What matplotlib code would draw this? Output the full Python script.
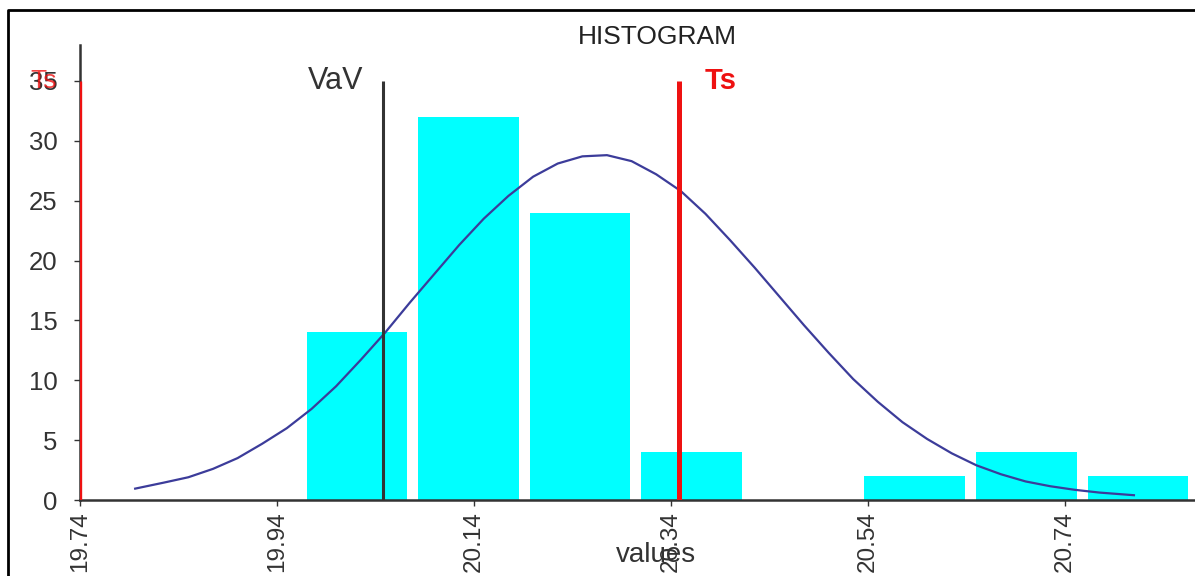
import matplotlib
matplotlib.use("Agg")
import matplotlib.pyplot as plt
from matplotlib.lines import Line2D

plt.rcParams['font.family'] = ['Liberation Sans', 'DejaVu Sans']

# histogram bins (edges) and counts
bin_edges = [19.970, 20.083, 20.197, 20.310, 20.423, 20.536, 20.650, 20.763, 20.876]
counts = [14, 32, 24, 4, 0, 2, 4, 2]

# fitted curve
curve_x = [19.796, 19.825, 19.85, 19.875, 19.90, 19.925, 19.95, 19.975, 20.00, 20.025,
           20.05, 20.075, 20.10, 20.125, 20.15, 20.175, 20.20, 20.225, 20.25, 20.275,
           20.30, 20.325, 20.35, 20.375, 20.40, 20.425, 20.45, 20.475, 20.50, 20.525,
           20.55, 20.575, 20.60, 20.625, 20.65, 20.675, 20.70, 20.725, 20.75, 20.775,
           20.81]
curve_y = [0.95, 1.45, 1.9, 2.6, 3.5, 4.7, 6.0, 7.6, 9.5, 11.7,
           14.0, 16.5, 18.9, 21.3, 23.5, 25.4, 27.0, 28.1, 28.7, 28.8,
           28.3, 27.2, 25.8, 23.9, 21.7, 19.4, 17.0, 14.6, 12.3, 10.1,
           8.2, 6.5, 5.1, 3.9, 2.9, 2.15, 1.55, 1.15, 0.85, 0.62,
           0.4]

# limit lines
ts_low = 19.74
ts_high = 20.348
vav = 20.048
line_top = 35

x_ticks = [19.74, 19.94, 20.14, 20.34, 20.54, 20.74]
y_ticks = [0, 5, 10, 15, 20, 25, 30, 35]

fig = plt.figure(figsize=(11.95, 5.76), dpi=100)
ax = fig.add_axes([80 / 1195, 76 / 576, 1115 / 1195, 455 / 576])

widths = [(b - a) * 0.9 for a, b in zip(bin_edges[:-1], bin_edges[1:])]
ax.bar(bin_edges[:-1], counts, width=widths, align='edge', color='#00FFFF', zorder=1)

ax.plot(curve_x, curve_y, color='#3c3c9a', lw=1.6, zorder=3)

ax.vlines(ts_low, 0, line_top, color='#ee1111', lw=2.4, zorder=4)
ax.vlines(ts_high, 0, line_top, color='#ee1111', lw=3.6, zorder=4)
ax.vlines(vav, 0, line_top, color='#333333', lw=2.2, zorder=4)

ax.text(vav - 0.02, line_top, 'VaV', color='#333333', fontsize=22,
        ha='right', va='center')
ax.text(ts_high + 0.026, line_top, 'Ts', color='#ee1111', fontsize=21,
        fontweight='bold', ha='left', va='center')
ax.text(-0.021, line_top, 'Ts', color='#ee1111', fontsize=19, alpha=0.8,
        ha='right', va='center', transform=ax.get_yaxis_transform())

ax.set_xlim(19.74, 20.872)
ax.set_ylim(0, 38)
ax.set_xticks(x_ticks)
ax.set_xticklabels([f'{v:.2f}' for v in x_ticks], rotation=90)
ax.set_yticks(y_ticks)
ax.tick_params(axis='y', labelsize=18.5, colors='#333333', length=4, width=1, pad=12)
ax.tick_params(axis='x', labelsize=17.5, colors='#333333', length=4, width=1, pad=4)

for s in ['top', 'right']:
    ax.spines[s].set_visible(False)
for s in ['left', 'bottom']:
    ax.spines[s].set_color('#333333')
    ax.spines[s].set_linewidth(1.8)

ax.set_xlabel('values', fontsize=20, color='#333333', va='center')
ax.xaxis.set_label_coords((656 - 80) / 1115, (500 - 555) / 455)
fig.text(657 / 1195, 1 - 37 / 576, 'HISTOGRAM', fontsize=19, color='#222222',
         ha='center', va='center')

# outer frame (left and top)
fig.add_artist(Line2D([8 / 1195, 8 / 1195, 1.02], [-0.02, 1 - 10 / 576, 1 - 10 / 576],
                      transform=fig.transFigure, color='black', lw=2, clip_on=False))

fig.savefig('out.png', dpi=100)
